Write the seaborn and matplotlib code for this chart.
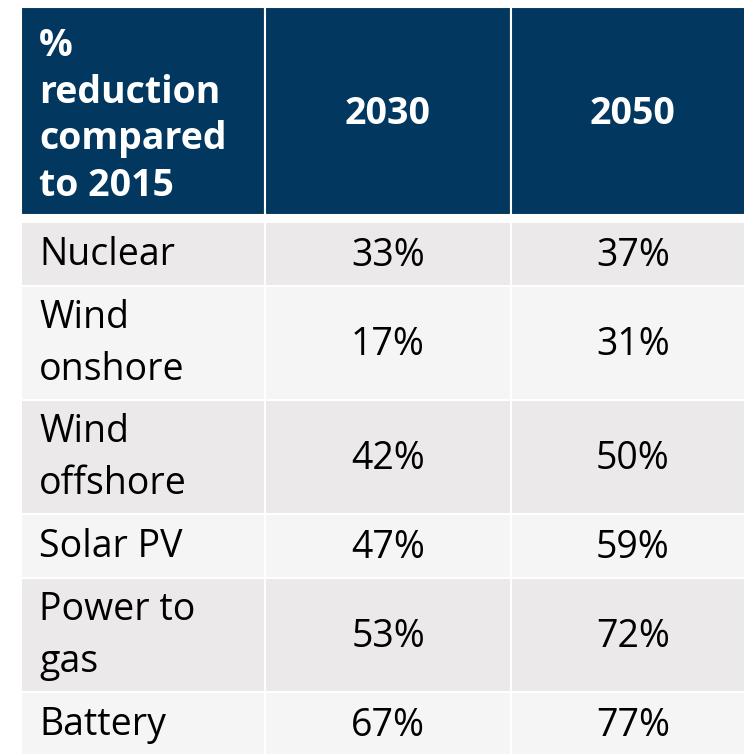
import matplotlib
matplotlib.use("Agg")
import matplotlib.pyplot as plt
from matplotlib.patches import Rectangle
import seaborn as sns

# Cost reduction table data
header_label = "%\nreduction\ncompared\nto 2015"
years = ["2030", "2050"]
technologies = ["Nuclear", "Wind\nonshore", "Wind\noffshore", "Solar PV", "Power to\ngas", "Battery"]
reduction_2030 = [33, 17, 42, 47, 53, 67]
reduction_2050 = [37, 31, 50, 59, 72, 77]

sns.set_theme(style="white")
plt.rcParams["font.family"] = ["Open Sans", "DejaVu Sans"]

HEADER_BG = "#02375F"
ROW_BG = ["#EBE9EA", "#F5F5F5"]
FS = 27

fig = plt.figure(figsize=(7.44, 7.54), dpi=100)
ax = fig.add_axes([0, 0, 1, 1])
ax.set_xlim(0, 744)
ax.set_ylim(754, 0)
ax.axis("off")

col_edges = [21, 265, 511, 755]
header_top, header_bottom = 7, 215
body_top = 222
line_h = {1: 64, 2: 114}

def cell(x0, x1, y0, y1, color):
    ax.add_patch(Rectangle((x0, y0), x1 - x0, y1 - y0, facecolor=color,
                           edgecolor="white", linewidth=1.5, clip_on=True))

# header row
for c in range(3):
    cell(col_edges[c], col_edges[c + 1], header_top, header_bottom, HEADER_BG)
hy = (header_top + header_bottom) / 2
ax.text(39, hy + 5, header_label, ha="left", va="center", color="white",
        fontsize=FS, fontweight="bold", linespacing=1.3)
for c, yr in enumerate(years, start=1):
    ax.text((col_edges[c] + col_edges[c + 1]) / 2, hy + 3, yr, ha="center",
            va="center", color="white", fontsize=FS, fontweight="bold")

# body rows; the last row runs past the lower edge of the figure
y = body_top
for i, (tech, v30, v50) in enumerate(zip(technologies, reduction_2030, reduction_2050)):
    h = line_h[tech.count("\n") + 1]
    color = ROW_BG[i % 2]
    bottom = y + h if i < len(technologies) - 1 else y + h + 10
    for c in range(3):
        cell(col_edges[c], col_edges[c + 1], y, bottom, color)
    cy = y + h / 2
    ax.text(39, cy + 1, tech, ha="left", va="center", color="black",
            fontsize=FS, linespacing=1.45)
    for c, v in zip((1, 2), (v30, v50)):
        ax.text((col_edges[c] + col_edges[c + 1]) / 2, cy + 2, f"{v}%",
                ha="center", va="center", color="black", fontsize=FS)
    y += h

fig.savefig("out.png", dpi=100, facecolor="white")
